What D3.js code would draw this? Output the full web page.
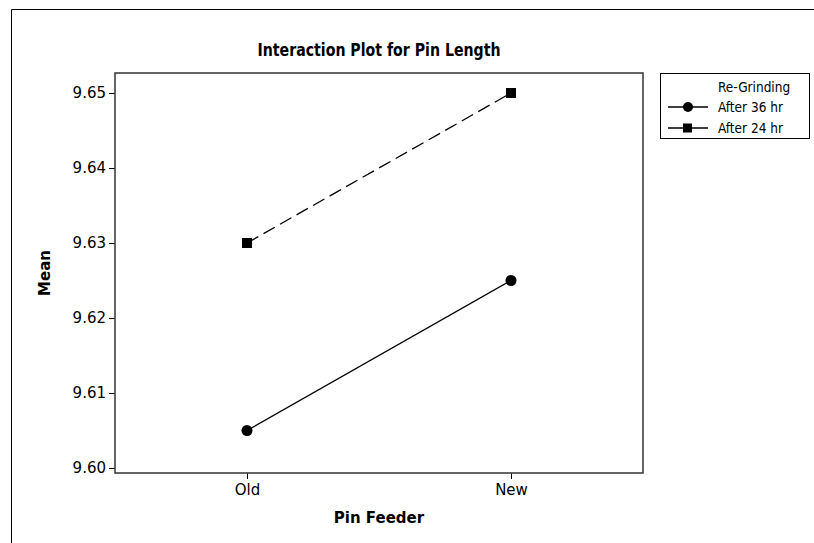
<!DOCTYPE html>
<html><head><meta charset="utf-8">
<script src="https://cdn.jsdelivr.net/npm/d3@7"></script>
<style>body{margin:0;background:#fff}svg{display:block}text{font-family:"DejaVu Sans",Verdana,sans-serif;fill:#000}</style>
</head><body><svg id="c" width="814" height="543"></svg>
<script>
const categories = ["Old", "New"];
const seriesNames = ["After 36 hr", "After 24 hr"];
const after36 = [9.605, 9.625];
const after24 = [9.630, 9.650];
const yTicks = [9.60, 9.61, 9.62, 9.63, 9.64, 9.65];
const legendTitle = "Re-Grinding";

const svg = d3.select("#c");
const font = "DejaVu Sans, sans-serif";
const condFont = "DejaVu Sans Condensed, DejaVu Sans, sans-serif";
// outer frame
svg.append("path").attr("d","M11.5,543 V9.5 H814").attr("fill","none").attr("stroke","#000").attr("stroke-width",1);

const L=115, R=643, T=73, B=473;
const x = d3.scalePoint().domain(categories).range([L,R]).padding(0.5);
const y = d3.scaleLinear().domain([9.60-5/7500, 9.65+20/7500]).range([B,T]);

// axes
const yAxis = svg.append("g").attr("transform",`translate(${L},0)`)
  .call(d3.axisLeft(y).tickValues(yTicks).tickFormat(d3.format(".2f")).tickSize(6).tickPadding(3));
const xAxis = svg.append("g").attr("transform",`translate(0,${B})`)
  .call(d3.axisBottom(x).tickSize(6).tickPadding(5));
[yAxis,xAxis].forEach(g=>{
  g.select(".domain").remove();
  g.selectAll("line").attr("stroke","#000");
  g.selectAll("text").style("font-family",font).style("font-size","15px").attr("fill","#000");
});
// plot frame
svg.append("rect").attr("x",L).attr("y",T).attr("width",R-L).attr("height",B-T)
  .attr("fill","none").attr("stroke","#333").attr("stroke-width",1.5);

// title and axis labels
svg.append("text").attr("x",(L+R)/2).attr("y",56).attr("text-anchor","middle")
  .attr("textLength",243).attr("lengthAdjust","spacingAndGlyphs")
  .style("font-family",condFont).style("font-weight","bold").style("font-size","18px").text("Interaction Plot for Pin Length");
svg.append("text").attr("x",(L+R)/2).attr("y",523).attr("text-anchor","middle")
  .style("font-family",font).style("font-weight","bold").style("font-size","15px").text("Pin Feeder");
svg.append("text").attr("transform",`translate(50,${(T+B)/2}) rotate(-90)`).attr("text-anchor","middle")
  .style("font-family",font).style("font-weight","bold").style("font-size","15px").text("Mean");

// lines
const line = d3.line().x((d,i)=>x(categories[i])).y(d=>y(d));
svg.append("path").datum(after36).attr("d",line).attr("fill","none").attr("stroke","#000").attr("stroke-width",1.3);
svg.append("path").datum(after24).attr("d",line).attr("fill","none").attr("stroke","#000").attr("stroke-width",1.3).attr("stroke-dasharray","13,6");

svg.append("g").selectAll("circle").data(after36).join("circle")
  .attr("cx",(d,i)=>x(categories[i])).attr("cy",d=>y(d)).attr("r",5.5).attr("fill","#000");
svg.append("g").selectAll("rect").data(after24).join("rect")
  .attr("x",(d,i)=>x(categories[i])-5).attr("y",d=>y(d)-5).attr("width",10).attr("height",10).attr("fill","#000");

// legend
const lg = svg.append("g");
lg.append("rect").attr("x",660.5).attr("y",73.5).attr("width",149).attr("height",65).attr("fill","#fff").attr("stroke","#000");
lg.append("text").attr("x",718).attr("y",92).style("font-family",condFont).style("font-size","13.5px").text(legendTitle);
seriesNames.forEach((s,i)=>{
  const yy = 107 + i*21;
  lg.append("line").attr("x1",668).attr("x2",708).attr("y1",yy).attr("y2",yy).attr("stroke","#000").attr("stroke-width",1.3);
  if(i===0) lg.append("circle").attr("cx",688).attr("cy",yy).attr("r",5).attr("fill","#000");
  else lg.append("rect").attr("x",683).attr("y",yy-4.5).attr("width",9).attr("height",9).attr("fill","#000");
  lg.append("text").attr("x",718).attr("y",yy+5).style("font-family",condFont).style("font-size","13.5px").text(s);
});
</script></body></html>
